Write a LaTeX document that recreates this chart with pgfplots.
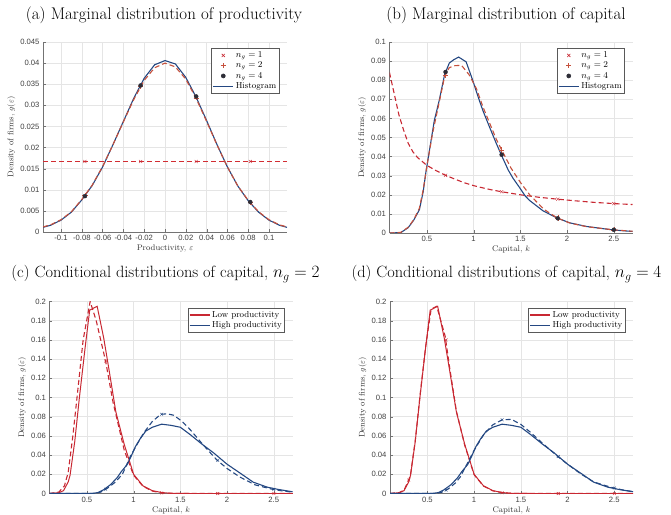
\documentclass[border=0pt]{standalone}
\usepackage{fontspec}
\newfontfamily\ticksf{Liberation Sans}
\usepackage{pgfplots}
\pgfplotsset{compat=1.18}
\definecolor{cred}{RGB}{200,40,50}
\definecolor{clred}{RGB}{210,45,50}
\definecolor{cora}{RGB}{198,80,60}
\definecolor{cblue}{RGB}{36,72,130}
\definecolor{cdark}{RGB}{45,45,55}
\pgfplotsset{
  panel/.style={
    scale only axis, width=243bp, height=191bp, anchor=south west,
    axis x line*=bottom, axis y line*=left,
    axis line style={black!55, line width=0.5pt},
    grid=major, grid style={black!10, line width=0.5pt},
    tick align=inside, major tick length=2.5bp, tick style={black!55},
    ticklabel style={font=\ticksf\fontsize{7.7}{8}\selectfont, text=black!75},
    /pgf/number format/assume math mode=true,
    /pgf/number format/fixed,
    /pgf/number format/precision=3,
    scaled ticks=false,
    label style={font=\fontsize{8.2}{9}\selectfont, text=black!80},
    xlabel style={yshift=3bp},
    ylabel style={yshift=-2bp},
    legend style={font=\fontsize{8.7}{10}\selectfont, draw=black!65, fill=white,
      at={(rel axis cs:1,1)}, anchor=north east, xshift=-7.5bp, yshift=-6.5bp,
      inner sep=1pt, row sep=-1pt, line width=0.6pt},
    legend cell align=left,
    legend image code/.code={\draw[line width=1.1pt] (0bp,0bp) -- (20bp,0bp);},
    ylabel={Density of firms, $g(\varepsilon)$},
  },
  hist/.style={cblue, line width=1.1pt, forget plot},
  dsh/.style={dash pattern=on 5bp off 3bp, line width=1.1pt, forget plot},
  mk/.style={only marks, forget plot},
  lowl/.style={cred, line width=1.0pt, forget plot},
  limg/.style={legend image code/.code={\draw[#1,line width=1.1pt] (0bp,0bp) -- (20bp,0bp);}},
  mimg/.style={only marks, legend image code/.code={\draw[#1] plot coordinates {(10bp,0bp)};}},
}
\begin{document}
\begin{tikzpicture}
\path[use as bounding box] (0,0) rectangle (671bp,515bp);
\node[font=\fontsize{17}{20}\selectfont] at (164bp,500bp) {(a) Marginal distribution of productivity};
\node[font=\fontsize{17}{20}\selectfont] at (506bp,500bp) {(b) Marginal distribution of capital};
\node[font=\fontsize{16.4}{20}\selectfont] at (165.5bp,241bp) {(c) Conditional distributions of capital, $n_g=2$};
\node[font=\fontsize{16.4}{20}\selectfont] at (506.5bp,241bp) {(d) Conditional distributions of capital, $n_g=4$};

% ---------------- (a)
\begin{axis}[panel, at={(43bp,283bp)}, width=244bp, height=190bp,
  xmin=-0.1173, xmax=0.1173, ymin=0, ymax=0.045,
  xtick={-0.1,-0.08,-0.06,-0.04,-0.02,0,0.02,0.04,0.06,0.08,0.1},
  ytick={0,0.005,0.01,0.015,0.02,0.025,0.03,0.035,0.04,0.045},
  xlabel={Productivity, $\varepsilon$}]
\addlegendimage{mimg={mark=x, mark size=2.2bp, cred}}
\addlegendimage{mimg={mark=+, mark size=2.6bp, cora}}
\addlegendimage{mimg={mark=*, mark size=2bp, cdark}}
\addlegendimage{limg={cblue}}
\addplot[draw=clred, dsh, line width=1.9pt] coordinates {(-0.1173,0.0167) (-0.06,0.0167) (0,0.0167) (0.06,0.0167) (0.1173,0.0167)};
\addplot[cred, mk, mark=x, mark size=2.2bp] coordinates {(-0.077,0.0167) (-0.0235,0.0167) (0.030,0.0167) (0.082,0.0167)};
\addplot[hist] coordinates {
(-0.1173,0.0011) (-0.11,0.0016) (-0.10,0.0028) (-0.09,0.0047) (-0.08,0.0076) (-0.07,0.0110)
(-0.06,0.0154) (-0.05,0.0207) (-0.04,0.0262) (-0.03,0.0317) (-0.02,0.0364) (-0.01,0.0396)
(0,0.0406) (0.01,0.0398) (0.02,0.0366) (0.03,0.0319) (0.04,0.0264) (0.05,0.0207)
(0.06,0.0154) (0.07,0.0109) (0.08,0.0074) (0.09,0.0047) (0.10,0.0028) (0.11,0.0016) (0.1173,0.0011)};
\addplot[cora, dsh] coordinates {
(-0.1173,0.0012) (-0.11,0.0017) (-0.10,0.0029) (-0.09,0.0048) (-0.08,0.0077) (-0.07,0.0111)
(-0.06,0.0155) (-0.05,0.0207) (-0.04,0.0261) (-0.03,0.0314) (-0.02,0.0359) (-0.01,0.0389)
(0,0.0400) (0.01,0.0391) (0.02,0.0362) (0.03,0.0316) (0.04,0.0262) (0.05,0.0206)
(0.06,0.0154) (0.07,0.0109) (0.08,0.0075) (0.09,0.0048) (0.10,0.0029) (0.11,0.0017) (0.1173,0.0012)};
\addplot[cora, mk, mark=+, mark size=2.6bp] coordinates {(-0.077,0.0086) (-0.0235,0.0345) (0.030,0.0318) (0.082,0.0070)};
\addplot[cdark, mk, mark=*, mark size=2bp] coordinates {(-0.077,0.0085) (-0.0235,0.0347) (0.030,0.0321) (0.082,0.0071)};
\legend{$n_g=1$, $n_g=2$, $n_g=4$, Histogram}
\end{axis}

% ---------------- (b)
\begin{axis}[panel, at={(389.5bp,282bp)},
  xmin=0.1, xmax=2.7, ymin=0, ymax=0.1,
  xtick={0.5,1,1.5,2,2.5},
  ytick={0,0.01,0.02,0.03,0.04,0.05,0.06,0.07,0.08,0.09,0.1},
  xlabel={Capital, $k$}]
\addlegendimage{mimg={mark=x, mark size=2.2bp, cred}}
\addlegendimage{mimg={mark=+, mark size=2.6bp, cora}}
\addlegendimage{mimg={mark=*, mark size=2bp, cdark}}
\addlegendimage{limg={cblue}}
\addplot[cred, dsh] coordinates {
(0.1,0.084) (0.15,0.073) (0.2,0.062) (0.25,0.054) (0.3,0.047) (0.35,0.0425) (0.4,0.0395)
(0.5,0.0354) (0.6,0.0326) (0.7,0.0302) (0.8,0.0282) (0.9,0.0263) (1.0,0.0248) (1.1,0.0236)
(1.2,0.0225) (1.3,0.0216) (1.5,0.0200) (1.7,0.0187) (1.9,0.0177) (2.1,0.0168) (2.3,0.0160)
(2.5,0.0154) (2.7,0.0149)};
\addplot[cred, mk, mark=x, mark size=2.2bp] coordinates {(0.7,0.0302) (1.3,0.0216) (1.9,0.0177) (2.5,0.0154)};
\addplot[hist] coordinates {
(0.10,0.0000) (0.22,0.0002) (0.30,0.0028) (0.36,0.0068) (0.42,0.0122) (0.46,0.0215)
(0.49,0.0320) (0.51,0.0380) (0.56,0.0530) (0.58,0.0590) (0.63,0.0690) (0.69,0.0830)
(0.74,0.0890) (0.79,0.0908) (0.84,0.0921) (0.92,0.0896) (0.99,0.0800) (1.05,0.0710)
(1.10,0.0640) (1.17,0.0555) (1.24,0.0472) (1.30,0.0405) (1.37,0.0330) (1.42,0.0288)
(1.50,0.0232) (1.55,0.0195) (1.60,0.0170) (1.74,0.0117) (1.89,0.0079) (2.03,0.0053)
(2.21,0.0034) (2.49,0.0016) (2.70,0.0008)};
\addplot[cora, dsh] coordinates {
(0.10,0.0000) (0.22,0.0003) (0.30,0.0030) (0.36,0.0070) (0.42,0.0130) (0.46,0.0225)
(0.50,0.0350) (0.56,0.0520) (0.63,0.0680) (0.69,0.0820) (0.74,0.0866) (0.80,0.0876)
(0.87,0.0878) (0.95,0.0830) (1.03,0.0756) (1.10,0.0660) (1.24,0.0494) (1.30,0.0435)
(1.40,0.0340) (1.50,0.0265) (1.60,0.0200) (1.75,0.0125) (1.89,0.0080) (2.03,0.0052)
(2.21,0.0033) (2.49,0.0017) (2.70,0.0009)};
\addplot[cora, mk, mark=+, mark size=2.6bp] coordinates {(0.7,0.0825) (1.3,0.0435) (1.9,0.0079) (2.5,0.0017)};
\addplot[cdark, mk, mark=*, mark size=2bp] coordinates {(0.7,0.0843) (1.3,0.0410) (1.9,0.0077) (2.5,0.0017)};
\legend{$n_g=1$, $n_g=2$, $n_g=4$, Histogram}
\end{axis}

% ---------------- (c)
\begin{axis}[panel, at={(49.5bp,21.5bp)}, height=192bp,
  xmin=0.1, xmax=2.7, ymin=0, ymax=0.2,
  xtick={0.5,1,1.5,2,2.5},
  ytick={0,0.02,0.04,0.06,0.08,0.1,0.12,0.14,0.16,0.18,0.2},
  xlabel={Capital, $k$}]
\addlegendimage{limg={cred}}
\addlegendimage{limg={cblue}}
\addplot[lowl] coordinates {
(0.10,0) (0.20,0.0008) (0.25,0.0030) (0.30,0.0120) (0.32,0.0190) (0.37,0.0540) (0.42,0.1000)
(0.48,0.1510) (0.53,0.1910) (0.61,0.1950) (0.68,0.1620) (0.74,0.1270) (0.81,0.0850)
(0.90,0.0510) (1.00,0.0200) (1.10,0.0080) (1.20,0.0030) (1.30,0.0010) (1.40,0.0002)
(1.60,0) (2.70,0)};
\addplot[cred, dsh] coordinates {
(0.10,0) (0.20,0.0015) (0.26,0.0080) (0.30,0.0220) (0.35,0.0600) (0.40,0.1050) (0.46,0.1600)
(0.535,0.2000) (0.60,0.1800) (0.70,0.1380) (0.78,0.0950) (0.90,0.0450) (1.00,0.0190)
(1.10,0.0075) (1.20,0.0025) (1.30,0.0006) (1.50,0) (2.70,0)};
\addplot[cred, mk, mark=x, mark size=2bp] coordinates {(0.7,0.138) (1.3,0.0006) (1.9,0) (2.5,0)};
\addplot[hist] coordinates {
(0.10,0) (0.55,0) (0.62,0.0010) (0.68,0.0040) (0.75,0.0090) (0.82,0.0160) (0.87,0.0230)
(0.93,0.0300) (0.97,0.0380) (1.02,0.0490) (1.07,0.0570) (1.13,0.0650) (1.20,0.0690)
(1.30,0.0722) (1.40,0.0710) (1.50,0.0690) (1.61,0.0610) (1.73,0.0515) (1.86,0.0420)
(2.00,0.0305) (2.14,0.0212) (2.28,0.0118) (2.43,0.0066) (2.55,0.0042) (2.70,0.0018)};
\addplot[cblue, dsh] coordinates {
(0.10,0) (0.58,0) (0.65,0.0015) (0.72,0.0055) (0.80,0.0115) (0.88,0.0200) (0.965,0.0386)
(1.03,0.0500) (1.107,0.0630) (1.20,0.0750) (1.29,0.0825) (1.36,0.0830) (1.43,0.0815)
(1.52,0.0750) (1.61,0.0660) (1.75,0.0500) (1.89,0.0350) (2.00,0.0260) (2.14,0.0170)
(2.30,0.0090) (2.48,0.0045) (2.60,0.0025) (2.70,0.0015)};
\addplot[cblue, mk, mark=x, mark size=2bp] coordinates {(0.7,0.0045) (1.3,0.0826) (1.9,0.0345) (2.5,0.0043)};
\legend{Low productivity, High productivity}
\end{axis}

% ---------------- (d)
\begin{axis}[panel, at={(390bp,21.5bp)}, height=192bp,
  xmin=0.1, xmax=2.7, ymin=0, ymax=0.2,
  xtick={0.5,1,1.5,2,2.5},
  ytick={0,0.02,0.04,0.06,0.08,0.1,0.12,0.14,0.16,0.18,0.2},
  xlabel={Capital, $k$}]
\addlegendimage{limg={cred}}
\addlegendimage{limg={cblue}}
\addplot[lowl] coordinates {
(0.10,0) (0.20,0.0008) (0.25,0.0030) (0.30,0.0120) (0.32,0.0190) (0.37,0.0540) (0.42,0.1000)
(0.48,0.1510) (0.53,0.1910) (0.61,0.1950) (0.68,0.1620) (0.74,0.1270) (0.81,0.0850)
(0.90,0.0510) (1.00,0.0200) (1.10,0.0080) (1.20,0.0030) (1.30,0.0010) (1.40,0.0002)
(1.60,0) (2.70,0)};
\addplot[cred, dsh] coordinates {
(0.10,0) (0.20,0.0010) (0.25,0.0035) (0.30,0.0140) (0.32,0.0200) (0.37,0.0550) (0.42,0.1010)
(0.48,0.1520) (0.54,0.1920) (0.60,0.1950) (0.69,0.1640) (0.74,0.1300) (0.81,0.0860)
(0.90,0.0500) (1.00,0.0195) (1.10,0.0078) (1.20,0.0028) (1.30,0.0008) (1.40,0.0002)
(1.60,0) (2.70,0)};
\addplot[cred, mk, mark=x, mark size=2bp] coordinates {(0.3,0.014) (0.7,0.160) (1.3,0.0008) (1.9,0) (2.5,0)};
\addplot[hist] coordinates {
(0.10,0) (0.55,0) (0.62,0.0010) (0.68,0.0040) (0.75,0.0090) (0.82,0.0160) (0.87,0.0230)
(0.93,0.0300) (0.97,0.0380) (1.02,0.0490) (1.07,0.0570) (1.13,0.0650) (1.20,0.0690)
(1.30,0.0722) (1.40,0.0710) (1.50,0.0690) (1.61,0.0610) (1.73,0.0515) (1.86,0.0420)
(2.00,0.0305) (2.14,0.0212) (2.28,0.0118) (2.43,0.0066) (2.55,0.0042) (2.70,0.0018)};
\addplot[cblue, dsh] coordinates {
(0.10,0) (0.58,0) (0.65,0.0012) (0.72,0.0045) (0.80,0.0110) (0.85,0.0170) (0.92,0.0300)
(1.00,0.0450) (1.10,0.0610) (1.20,0.0715) (1.30,0.0768) (1.40,0.0772) (1.50,0.0720)
(1.60,0.0640) (1.73,0.0525) (1.89,0.0390) (2.00,0.0305) (2.14,0.0205) (2.28,0.0120)
(2.48,0.0060) (2.60,0.0035) (2.70,0.0020)};
\addplot[cblue, mk, mark=x, mark size=2bp] coordinates {(0.7,0.0035) (1.3,0.0768) (1.9,0.0385) (2.5,0.0057)};
\legend{Low productivity, High productivity}
\end{axis}
\end{tikzpicture}
\end{document}
